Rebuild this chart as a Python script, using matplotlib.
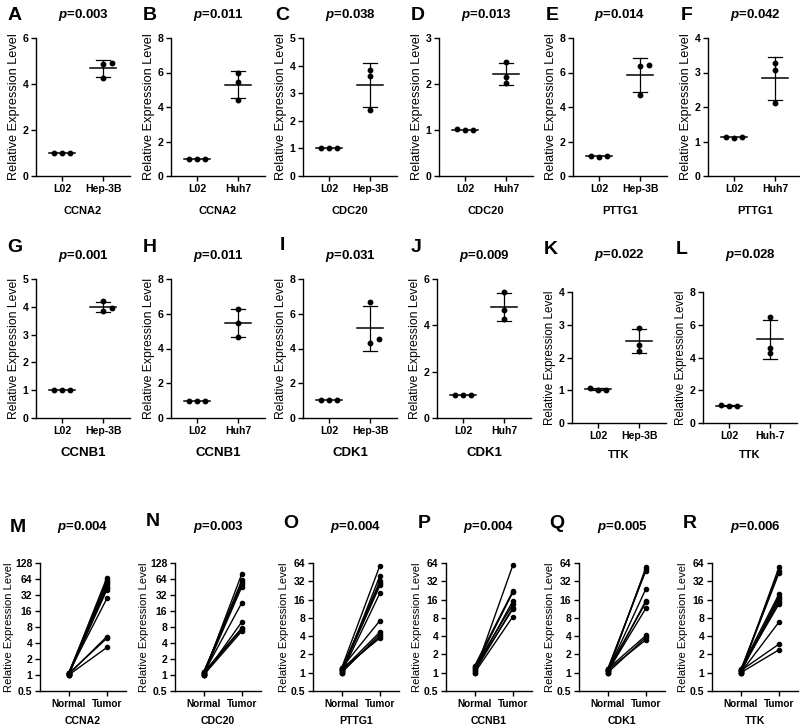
import numpy as np
import matplotlib
matplotlib.use("Agg")
import matplotlib.pyplot as plt
from matplotlib.ticker import FixedLocator, FixedFormatter

plt.rcParams['font.family'] = ['Liberation Sans', 'DejaVu Sans']
plt.rcParams['mathtext.fontset'] = 'custom'
plt.rcParams['mathtext.it'] = 'Liberation Sans:italic:bold'
plt.rcParams['mathtext.rm'] = 'Liberation Sans:bold'

# ---------------- data: cell-line dot plots (A-L) ----------------
letters_cell = ["A", "B", "C", "D", "E", "F", "G", "H", "I", "J", "K", "L"]
genes_cell = ["CCNA2", "CCNA2", "CDC20", "CDC20", "PTTG1", "PTTG1",
              "CCNB1", "CCNB1", "CDK1", "CDK1", "TTK", "TTK"]
pvals_cell = ["0.003", "0.011", "0.038", "0.013", "0.014", "0.042",
              "0.001", "0.011", "0.031", "0.009", "0.022", "0.028"]
ctrl_names = ["L02"] * 12
tumor_names = ["Hep-3B", "Huh7", "Hep-3B", "Huh7", "Hep-3B", "Huh7",
               "Hep-3B", "Huh7", "Hep-3B", "Huh7", "Hep-3B", "Huh-7"]
ctrl_vals = [
    [1.0, 1.0, 1.0], [1.0, 1.0, 1.0], [1.01, 1.02, 1.01], [1.0, 1.02, 1.01],
    [1.12, 1.15, 1.14], [1.11, 1.14, 1.13], [1.02, 1.02, 1.02], [1.0, 1.0, 1.0],
    [1.02, 1.02, 1.02], [1.01, 1.01, 1.01], [1.02, 1.06, 1.02], [1.04, 1.08, 1.04],
]
tumor_vals = [
    [4.26, 4.86, 4.93], [5.97, 5.43, 4.43], [3.85, 3.64, 2.38], [2.48, 2.15, 2.02],
    [6.42, 6.38, 4.70], [3.28, 3.08, 2.12], [4.20, 3.96, 3.84], [6.28, 5.47, 4.66],
    [6.65, 4.53, 4.30], [5.46, 4.65, 4.26], [2.91, 2.37, 2.20], [6.48, 4.58, 4.26],
]
ymax_cell = [6, 8, 5, 3, 8, 4, 5, 8, 8, 6, 4, 8]
ystep_cell = [2, 2, 1, 1, 2, 1, 1, 2, 2, 2, 1, 2]

# ---------------- data: paired tissue plots (M-R) ----------------
letters_pair = ["M", "N", "O", "P", "Q", "R"]
genes_pair = ["CCNA2", "CDC20", "PTTG1", "CCNB1", "CDK1", "TTK"]
pvals_pair = ["0.004", "0.003", "0.004", "0.004", "0.005", "0.006"]
pair_groups = ["Normal", "Tumor"]
normal_vals = [
    [1.05, 1.0, 1.1, 1.02, 1.08, 1.0, 1.05, 1.1, 1.03, 1.07, 1.0],
    [1.0, 1.1, 1.05, 1.15, 1.02, 1.08, 0.98, 1.12, 1.05, 1.0],
    [1.2, 1.0, 1.1, 1.15, 1.05, 1.0, 1.2, 1.1, 1.0, 1.05, 1.15],
    [1.0, 1.3, 1.2, 1.1, 1.25, 1.05, 1.15, 1.0],
    [1.0, 1.1, 1.15, 1.05, 1.0, 1.1, 1.05, 1.15, 1.0, 1.1],
    [1.0, 1.1, 1.05, 1.15, 1.0, 1.1, 1.05, 1.12, 1.0, 1.08, 1.0],
]
tumor_pair_vals = [
    [68, 61, 55, 51, 46, 43, 40, 27.5, 5.3, 4.9, 3.3],
    [81, 61, 57, 51, 46, 23, 10, 7.7, 7.3, 6.7],
    [58, 39.5, 32.4, 29.7, 27.3, 20.4, 7.2, 4.67, 4.33, 3.97, 3.72],
    [59, 22.2, 21.1, 15.2, 13.4, 11.8, 11.2, 8.4],
    [54, 51, 48, 24, 15.4, 14.4, 11.5, 4.1, 3.83, 3.48],
    [54, 47, 43.4, 19.6, 17.9, 16.4, 14.8, 13.5, 6.8, 2.95, 2.38],
]
ymax_pair = [128, 128, 64, 64, 64, 64]

# ---------------- layout (pixels) ----------------
W, H = 800, 728
fig = plt.figure(figsize=(W / 100, H / 100), dpi=100)

def px_axes(x0, y0, w, h):
    return fig.add_axes([x0 / W, 1 - (y0 + h) / H, w / W, h / H])

def ftext(x, y, s, **kw):
    fig.text(x / W, 1 - y / H, s, **kw)

def style(ax):
    for s in ("top", "right"):
        ax.spines[s].set_visible(False)
    for s in ("left", "bottom"):
        ax.spines[s].set_linewidth(1.0)
    ax.tick_params(direction="out", length=3.5, width=1.0, pad=2)
    for lab in ax.get_xticklabels() + ax.get_yticklabels():
        lab.set_fontweight("bold")

def swarm(vals, ymax, hpx, d=0.2, thr=5.0):
    order = np.argsort(vals)
    placed = []
    offs = np.zeros(len(vals))
    for i in order:
        ypx = vals[i] / ymax * hpx
        for cand in [0, d, -d, 2 * d, -2 * d]:
            if all(abs(ypx - py) >= thr or abs(cand - po) > 1e-9 for py, po in placed):
                offs[i] = cand
                placed.append((ypx, cand))
                break
    return offs

cell_x0 = [36, 171, 303, 439, 573, 708, 36, 171, 303, 437, 572, 703]
cell_top = [38] * 6 + [279, 279, 279, 279, 292, 292]
cell_bot = [176] * 6 + [418, 418, 418, 418, 423, 423]
cell_w = 94
gene_fs = [8] * 6 + [9.5, 9.5, 9.5, 9.5, 8, 8]
gene_y = [211] * 6 + [453, 453, 453, 453, 455, 455]
title_y = [15] * 6 + [256, 256, 256, 256, 255, 255]
letter_y = [15] * 6 + [248, 248, 246, 247, 249, 249]
ylab_fs = [9.2] * 6 + [8.8, 8.8, 8.8, 8.8, 8.4, 8.4]

for k in range(12):
    x0, t, b = cell_x0[k], cell_top[k], cell_bot[k]
    h = b - t
    ax = px_axes(x0, t, cell_w, h)
    for gi, vals in enumerate([ctrl_vals[k], tumor_vals[k]]):
        vals = np.array(vals, dtype=float)
        offs = swarm(vals, ymax_cell[k], h)
        ax.plot(gi + offs, vals, "o", color="black", ms=3.2, zorder=3,
                clip_on=False)
        m = vals.mean()
        sd = vals.std(ddof=1)
        ax.plot([gi - 0.32, gi + 0.32], [m, m], color="black", lw=1.1, zorder=2)
        if sd > 0.02:
            ax.plot([gi, gi], [m - sd, m + sd], color="black", lw=0.9, zorder=2)
            for yy in (m - sd, m + sd):
                ax.plot([gi - 0.17, gi + 0.17], [yy, yy], color="black", lw=0.9, zorder=2)
    ax.set_xlim(-0.64, 1.65)
    ax.set_ylim(0, ymax_cell[k])
    ax.set_yticks(np.arange(0, ymax_cell[k] + 0.001, ystep_cell[k]))
    ax.set_xticks([0, 1])
    ax.set_xticklabels([ctrl_names[k], tumor_names[k]], fontsize=7.6)
    ax.tick_params(axis="y", labelsize=7.6)
    ax.set_ylabel("Relative Expression Level", fontsize=ylab_fs[k], labelpad=2)
    style(ax)
    cx = x0 + cell_w / 2
    ftext(cx, gene_y[k], genes_cell[k], ha="center", va="center",
          fontsize=gene_fs[k], fontweight="bold")
    ftext(cx, title_y[k], r"$p$=" + pvals_cell[k], ha="center", va="center",
          fontsize=9.5, fontweight="bold")
    ftext(x0 - 21, letter_y[k], letters_cell[k], ha="center", va="center",
          fontsize=14, fontweight="bold")

pair_x0 = [40, 175, 313, 446, 579, 712]
pair_top, pair_bot = 563, 691
pair_w = 86
pair_letter_y = [528, 522, 523, 523, 523, 523]

for k in range(6):
    x0 = pair_x0[k]
    ax = px_axes(x0, pair_top, pair_w, pair_bot - pair_top)
    for nv, tv in zip(normal_vals[k], tumor_pair_vals[k]):
        ax.plot([0, 1], [nv, tv], "-o", color="black", lw=1.0, ms=3.0,
                clip_on=False)
    ax.set_yscale("log", base=2)
    ax.set_ylim(0.5, ymax_pair[k])
    ticks = [0.5 * 2 ** i for i in range(int(np.log2(ymax_pair[k] / 0.5)) + 1)]
    ax.yaxis.set_major_locator(FixedLocator(ticks))
    ax.yaxis.set_major_formatter(FixedFormatter(["0.5"] + [str(int(t)) for t in ticks[1:]]))
    ax.yaxis.set_minor_locator(FixedLocator([]))
    ax.set_xlim(-0.75, 1.5)
    ax.set_xticks([0, 1])
    ax.set_xticklabels(pair_groups, fontsize=7.2)
    ax.tick_params(axis="y", labelsize=7.5)
    ax.set_ylabel("Relative Expression Level", fontsize=8.1, labelpad=1)
    style(ax)
    cx = x0 + pair_w / 2
    ftext(cx, 721, genes_pair[k], ha="center", va="center",
          fontsize=7.6, fontweight="bold")
    ftext(cx, 527, r"$p$=" + pvals_pair[k], ha="center", va="center",
          fontsize=9.5, fontweight="bold")
    ftext(x0 - 22, pair_letter_y[k], letters_pair[k], ha="center", va="center",
          fontsize=14, fontweight="bold")

fig.savefig("out.png", dpi=100)
